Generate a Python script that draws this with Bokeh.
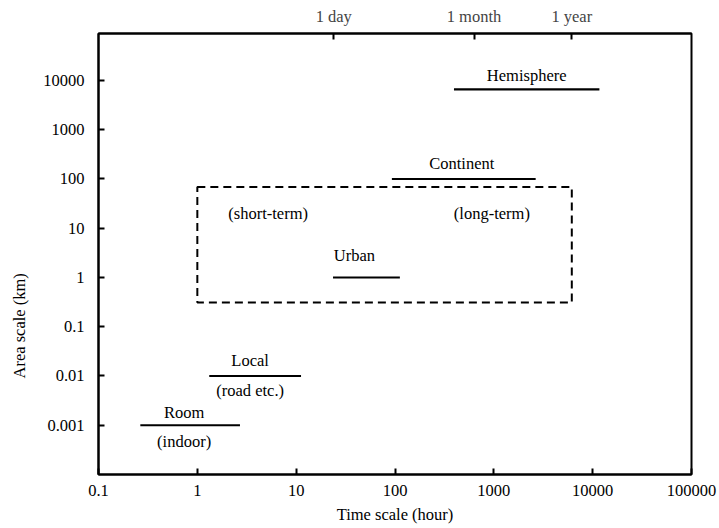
import numpy as np
from bokeh.plotting import figure
from bokeh.models import LogAxis, FixedTicker, Title, ColumnDataSource
from bokeh.core.properties import value
from bokeh.embed import file_html
from bokeh.resources import INLINE

# ---- data ----
scales = ["Room", "Local", "Urban", "Continent", "Hemisphere"]
sublabels = ["(indoor)", "(road etc.)", "", "", ""]
t_start = [0.265, 1.32, 23.6, 93, 395]        # hours
t_end = [2.7, 11.2, 112, 2650, 11700]         # hours
area = [0.001, 0.01, 1, 100, 6600]            # km

box_time = [1, 6150]
box_area = [0.31, 69]
box_notes = ["(short-term)", "(long-term)"]
box_note_time = [5.2, 955]
box_note_area = [20, 20]

x_ticks = [0.1, 1, 10, 100, 1000, 10000, 100000]
x_tick_labels = ["0.1", "1", "10", "100", "1000", "10000", "100000"]
y_ticks = [0.001, 0.01, 0.1, 1, 10, 100, 1000, 10000]
y_tick_labels = ["0.001", "0.01", "0.1", "1", "10", "100", "1000", "10000"]
top_ticks = [24, 630, 6150]
top_tick_labels = ["1 day", "1 month", "1 year"]

# ---- styles (label offsets in pixels) ----
above_dx = [-6, -5, -12, -2, 0]
above_dy = [-13, -15, -22, -15, -14]
below_dy = [16, 15, 0, 0, 0]

FONT = "Liberation Serif"
FS = "16.5px"

p = figure(width=719, height=528, x_axis_type="log", y_axis_type="log",
           x_range=(0.1, 100000), y_range=(1e-4, 9e4),
           output_backend="svg", toolbar_location=None,
           min_border_left=97, min_border_right=28,
           min_border_top=33, min_border_bottom=54)
p.grid.visible = False
p.outline_line_color = "black"
p.outline_line_width = 2
p.background_fill_color = "white"
p.border_fill_color = "white"

for ax in (p.xaxis[0], p.yaxis[0]):
    ax.axis_line_color = "black"
    ax.axis_line_width = 2
    ax.major_tick_in = 6
    ax.major_tick_out = 0
    ax.major_tick_line_width = 2
    ax.minor_tick_line_color = None
    ax.major_label_text_font = FONT
    ax.major_label_text_font_size = FS
    ax.major_label_text_color = "black"

p.xaxis[0].ticker = FixedTicker(ticks=x_ticks)
p.xaxis[0].major_label_overrides = dict(zip(x_ticks, x_tick_labels))
p.xaxis[0].major_label_standoff = 10
p.xaxis[0].axis_label = "Time scale (hour)"
p.xaxis[0].axis_label_text_font = FONT
p.xaxis[0].axis_label_text_font_size = FS
p.xaxis[0].axis_label_text_font_style = "normal"
p.xaxis[0].axis_label_text_color = "black"
p.xaxis[0].axis_label_standoff = 6

p.yaxis[0].ticker = FixedTicker(ticks=y_ticks)
p.yaxis[0].major_label_overrides = dict(zip(y_ticks, y_tick_labels))
p.yaxis[0].major_label_standoff = 14

top = LogAxis(ticker=FixedTicker(ticks=top_ticks),
              major_label_overrides=dict(zip(top_ticks, top_tick_labels)),
              axis_line_color="black", axis_line_width=2,
              major_tick_in=6, major_tick_out=0, major_tick_line_width=2,
              minor_tick_line_color=None,
              major_label_text_font=FONT, major_label_text_font_size=FS,
              major_label_standoff=8)
p.add_layout(top, "above")

p.add_layout(Title(text="Area scale (km)", align="left", offset=96,
                   vertical_align="top",
                   text_font=FONT, text_font_size=FS, text_font_style="normal",
                   text_color="black", standoff=19), "left")

# scale segments
src = ColumnDataSource(dict(
    x0=t_start, x1=t_end, y=area,
    xm=list(np.sqrt(np.array(t_start) * np.array(t_end))),
    name=scales, sub=sublabels,
    adx=above_dx, ady=above_dy, bdy=below_dy,
))
p.segment(x0="x0", y0="y", x1="x1", y1="y", source=src,
          line_color="black", line_width=2.2)
p.text(x="xm", y="y", text="name", source=src, x_offset="adx", y_offset="ady",
       text_align="center", text_baseline="middle",
       text_font=value(FONT), text_font_size=FS, text_color="black")
p.text(x="xm", y="y", text="sub", source=src, x_offset="adx", y_offset="bdy",
       text_align="center", text_baseline="middle",
       text_font=value(FONT), text_font_size=FS, text_color="black")

# dashed box
p.quad(left=[box_time[0]], right=[box_time[1]], bottom=[box_area[0]], top=[box_area[1]],
       fill_alpha=0, line_color="black", line_width=2, line_dash="8 5")
p.text(x=box_note_time, y=box_note_area, text=box_notes,
       text_align="center", text_baseline="middle",
       text_font=value(FONT), text_font_size=FS, text_color="black")

open("out.html", "w").write(file_html(p, INLINE))
